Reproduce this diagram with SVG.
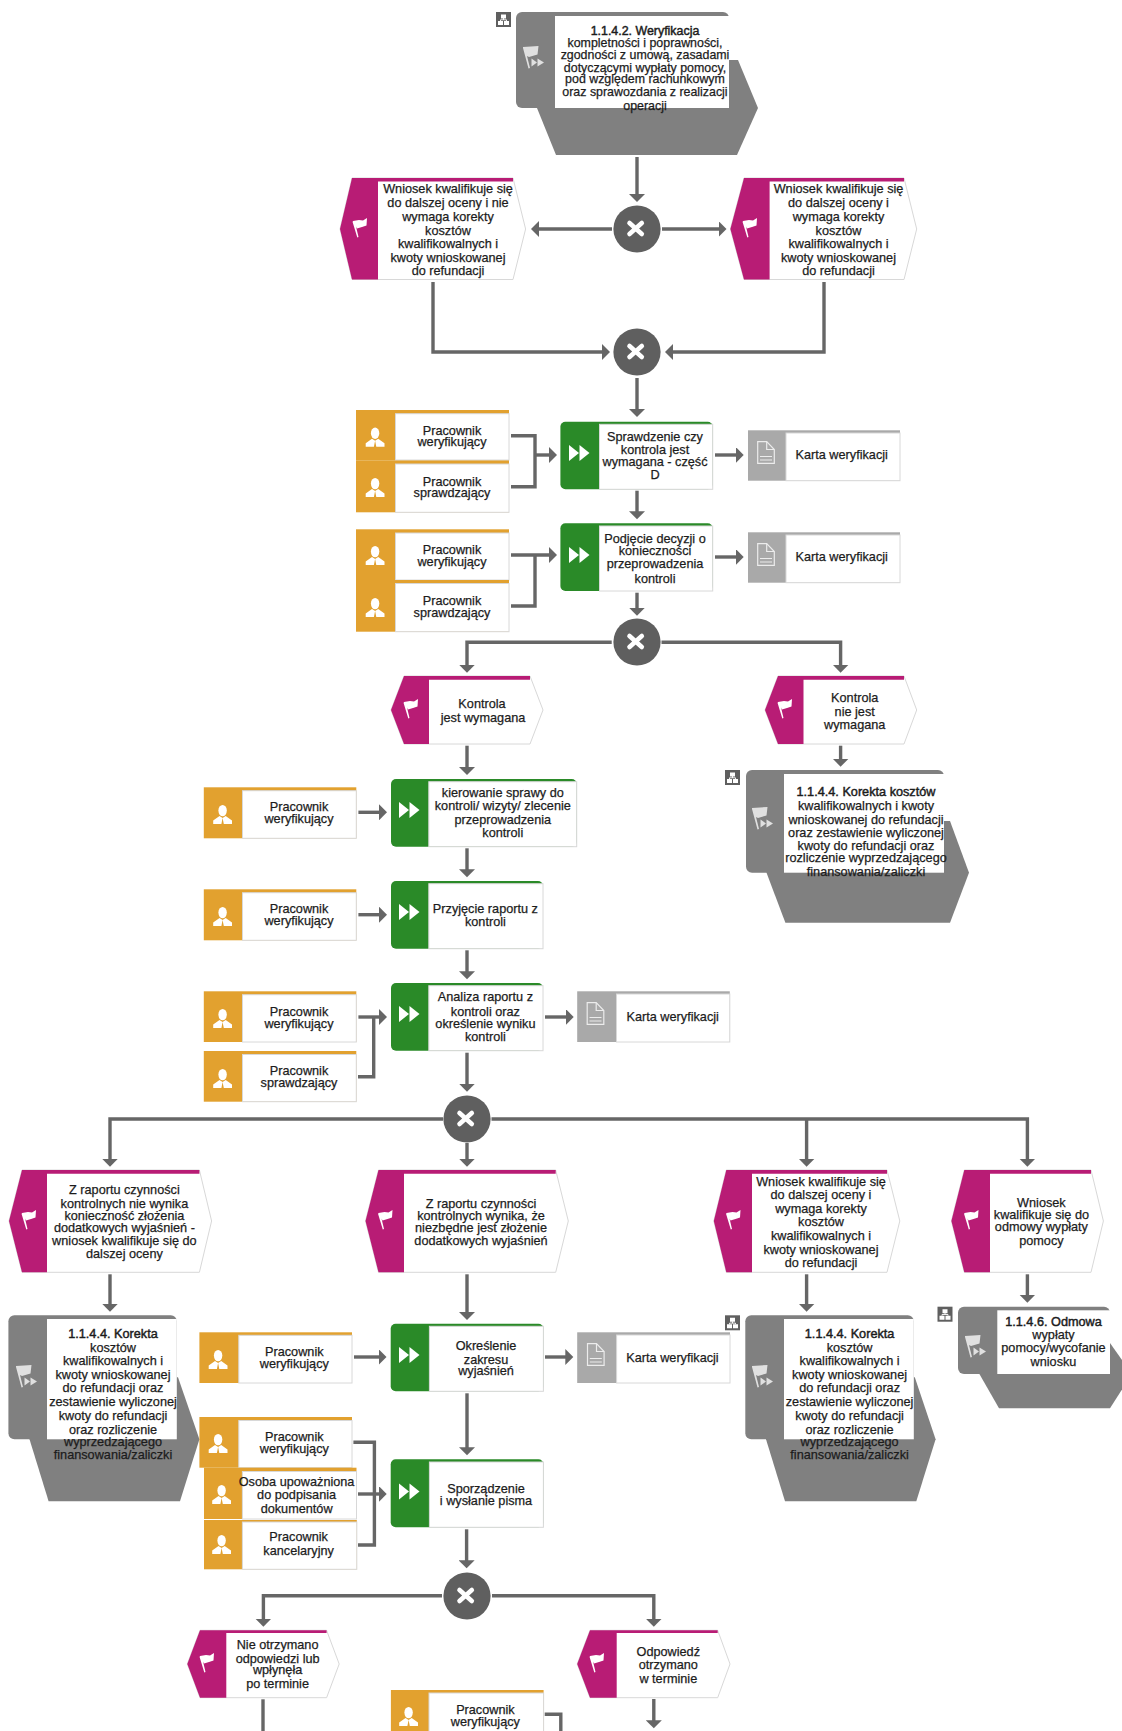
<svg xmlns="http://www.w3.org/2000/svg" width="1122" height="1731" viewBox="0 0 1122 1731">
<style>
text{font-family:"Liberation Sans",Arial,sans-serif;font-size:12.7px;fill:#1c1c1c;text-anchor:middle;stroke:#1c1c1c;stroke-width:.25;transform:translateY(-.8px)}
.s{font-size:12.4px}
.b{stroke-width:.45}
.con{fill:none;stroke:#666;stroke-width:3.4}
.arr{marker-end:url(#ah)}
.wh{fill:#fff;stroke:#d8d8d8;stroke-width:1}
.wp{fill:#fff}
.mag{fill:#b81c75}
.org{fill:#e2a12f}
.grn{fill:#2a8a28}
.doc{fill:#a9a9a9}
.pro{fill:#808080}
</style>
<defs>
<marker id="ah" markerUnits="userSpaceOnUse" markerWidth="9" markerHeight="16" refX="1" refY="8" orient="auto"><path d="M0,0L8,8L0,16z" fill="#666"/></marker>
<g id="flag" fill="#fff"><path d="M1,4L7,3L11,3.5L15,1L14.5,8.500L10,10L5,11.500L4,9.500L6.500,20L5.300,20.500L.6,5z"/></g>
<g id="pflag" fill="#e0e0e0"><path d="M-11,-11L-3,-11.500L4.500,-12L3.500,-3.500L-5,-1L-7,-2L-4,10L-5.500,10.500L-11,-10z"/><path d="M-2.500,.5L3,4.500L-2.500,8.500zM3.500,.5L10,4.500L3.500,8.500z"/></g>
<g id="play" fill="#fff"><path d="M0,-8L10,0L0,8zM10.500,-8L20.500,0L10.500,8z"/></g>
<g id="person" fill="#fff"><ellipse cx="-.4" cy="-3.400" rx="4.200" ry="5.700"/><path d="M-3.500,2L-9.800,6.500V10H-1.600L-.4,4L.8,10H9V6.500L2.700,2L-.4,4z"/></g>
<g id="page" fill="none" stroke="#ececec" stroke-width="1.200"><path d="M-8.300,-10.800H.7L8.300,-3V10.800H-8.300z"/><path d="M.7,-10.800V-3H8.300M-6,4H6M-6,7.500H6"/></g>
<g id="sub"><rect width="15" height="15" fill="#5f5f5f"/><path d="M5,2.500h5v4h-5zM2,9h5v4h-5zM8,9h5v4h-5z" fill="#fff"/><path d="M7.500,6V8M4.500,9V7.800H10.500V9" stroke="#fff" stroke-width=".9" fill="none"/></g>
<g id="x"><circle r="23.600" fill="#5f5f5f"/><path d="M-7.500,-6L4.800,5M4.800,-6L-7.500,5" stroke="#fff" stroke-width="4.600" stroke-linecap="round"/></g>
</defs>

<g id="connectors">
<path class="con arr" d="M637 157V195"/>
<path class="con arr" d="M612 229H538"/>
<path class="con arr" d="M662 229H719.500"/>
<path class="con arr" d="M433 282V352H603"/>
<path class="con arr" d="M824 282V352H672"/>
<path class="con arr" d="M637 378V410"/>
<path class="con" d="M511 435.700H535V486.700H511"/>
<path class="con arr" d="M535 455H550"/>
<path class="con arr" d="M715 455H736.700"/>
<path class="con arr" d="M637 490.700V512.300"/>
<path class="con arr" d="M511 555H550"/>
<path class="con" d="M511 606H535V555"/>
<path class="con arr" d="M715 557H736.700"/>
<path class="con arr" d="M637 592.700V608.700"/>
<path class="con arr" d="M611.700 642.300H467V665.700"/>
<path class="con arr" d="M661.500 642.300H840.600V665.700"/>
<path class="con arr" d="M467 745.700V768"/>
<path class="con arr" d="M840.600 745.700V759.700"/>
<path class="con arr" d="M358.400 812.300H380"/>
<path class="con arr" d="M467 848.300V870.300"/>
<path class="con arr" d="M358.400 914.700H380"/>
<path class="con arr" d="M467 950.300V972.300"/>
<path class="con arr" d="M358.400 1017H380"/>
<path class="con" d="M358 1076.700H373.700V1017"/>
<path class="con arr" d="M545 1017H566.700"/>
<path class="con arr" d="M467 1052.700V1084.700"/>
<path class="con arr" d="M443 1119H110V1159.700"/>
<path class="con arr" d="M491.500 1119H1027.400V1159.700"/>
<path class="con arr" d="M806.600 1119V1159.700"/>
<path class="con arr" d="M467 1143V1159.700"/>
<path class="con arr" d="M110 1274.300V1304.700"/>
<path class="con arr" d="M467 1274.300V1313"/>
<path class="con arr" d="M806.600 1274.300V1304.700"/>
<path class="con arr" d="M1027.400 1274.300V1295.700"/>
<path class="con arr" d="M354 1357H379.500"/>
<path class="con arr" d="M545 1357H566.300"/>
<path class="con arr" d="M467 1393.300V1448.300"/>
<path class="con" d="M353.400 1442.300H374.400V1545H358"/>
<path class="con arr" d="M358 1494H379.700"/>
<path class="con arr" d="M466.600 1529.300V1561.300"/>
<path class="con arr" d="M442 1595.700H263.400V1619.700"/>
<path class="con arr" d="M492 1595.700H653.800V1619.700"/>
<path class="con" d="M263 1699.300V1731"/>
<path class="con arr" d="M653.800 1699V1721.300"/>
<path class="con" d="M544.700 1714.300H560.800V1731"/>
</g>

<g id="p1">
<use href="#sub" x="496" y="12"/>
<polygon class="pro" points="537,108 556,155 737,155 758,108 738,60 537,60"/>
<rect class="pro" x="516" y="12" width="213" height="96" rx="6"/>
<rect class="wp" x="555" y="16" width="174" height="92"/>
<use href="#pflag" x="534" y="58"/>
<text class="s"><tspan class="b" x="645" y="35.500">1.1.4.2. Weryfikacja</tspan><tspan x="645" y="48">kompletności i poprawności,</tspan><tspan x="645" y="60">zgodności z umową, zasadami</tspan><tspan x="645" y="72.500">dotyczącymi wypłaty pomocy,</tspan><tspan x="645" y="84">pod względem rachunkowym</tspan><tspan x="645" y="97">oraz sprawozdania z realizacji</tspan><tspan x="645" y="110.500">operacji</tspan></text>
</g>
<g id="g1"><use href="#x" x="637" y="229"/></g>
<g id="e1">
<polygon class="wh" points="340,229 352,178 513,178 525.600,229 513,279.500 352,279.500"/>
<polygon class="mag" points="340,229 352,178 513,178 513,181.500 378,181.500 378,279.500 352,279.500"/>
<use href="#flag" x="352" y="217"/>
<text><tspan x="448" y="194">Wniosek kwalifikuje się</tspan><tspan x="448" y="208">do dalszej oceny i nie</tspan><tspan x="448" y="222">wymaga korekty</tspan><tspan x="448" y="235.500">kosztów</tspan><tspan x="448" y="249">kwalifikowalnych i</tspan><tspan x="448" y="262.500">kwoty wnioskowanej</tspan><tspan x="448" y="276">do refundacji</tspan></text>
</g>
<g id="e2">
<polygon class="wh" points="730.400,229 744,178 904,178 916.700,229 904,279.500 744,279.500"/>
<polygon class="mag" points="730.400,229 744,178 904,178 904,181.500 769.600,181.500 769.600,279.500 744,279.500"/>
<use href="#flag" x="742" y="217"/>
<text><tspan x="838.500" y="194">Wniosek kwalifikuje się</tspan><tspan x="838.500" y="208">do dalszej oceny i</tspan><tspan x="838.500" y="222">wymaga korekty</tspan><tspan x="838.500" y="235.500">kosztów</tspan><tspan x="838.500" y="249">kwalifikowalnych i</tspan><tspan x="838.500" y="262.500">kwoty wnioskowanej</tspan><tspan x="838.500" y="276">do refundacji</tspan></text>
</g>
<g id="g2"><use href="#x" x="637" y="352"/></g>

<g id="r1"><rect class="org" x="356" y="410" width="153" height="50.700"/><rect class="wh" x="395.500" y="413.700" width="113.500" height="46.300"/><use href="#person" x="375.500" y="436.700"/><text><tspan x="452" y="435.500">Pracownik</tspan><tspan x="452" y="447">weryfikujący</tspan></text></g>
<g id="r2"><rect class="org" x="356" y="460.700" width="153" height="51.600"/><rect class="wh" x="395.500" y="464" width="113.500" height="48.300"/><use href="#person" x="375.500" y="487"/><text><tspan x="452" y="486.500">Pracownik</tspan><tspan x="452" y="498">sprawdzający</tspan></text></g>
<g id="f1"><rect class="grn" x="560.400" y="421.700" width="152.300" height="67.600" rx="5"/><rect class="wh" x="599.500" y="424.300" width="113.200" height="65"/><use href="#play" x="569" y="453"/><text><tspan x="655" y="441.500">Sprawdzenie czy</tspan><tspan x="655" y="454.500">kontrola jest</tspan><tspan x="655" y="466.500">wymagana - część</tspan><tspan x="655" y="479.500">D</tspan></text></g>
<g id="d1"><rect class="doc" x="748" y="430.300" width="152" height="50.400"/><rect class="wh" x="786" y="433" width="114" height="47.700"/><use href="#page" x="766" y="452.500"/><text x="841.700" y="460">Karta weryfikacji</text></g>
<g id="r3"><rect class="org" x="356" y="529.300" width="153" height="50.700"/><rect class="wh" x="395.500" y="533" width="113.500" height="47"/><use href="#person" x="375.500" y="555"/><text><tspan x="452" y="554.500">Pracownik</tspan><tspan x="452" y="566.500">weryfikujący</tspan></text></g>
<g id="r4"><rect class="org" x="356" y="580" width="153" height="51.700"/><rect class="wh" x="395.500" y="583.500" width="113.500" height="48.200"/><use href="#person" x="375.500" y="607"/><text><tspan x="452" y="605.500">Pracownik</tspan><tspan x="452" y="617.500">sprawdzający</tspan></text></g>
<g id="f2"><rect class="grn" x="560.400" y="523.300" width="152.300" height="67.700" rx="5"/><rect class="wh" x="599.500" y="526" width="113.200" height="65"/><use href="#play" x="569" y="555"/><text><tspan x="655" y="544">Podjęcie decyzji o</tspan><tspan x="655" y="556">konieczności</tspan><tspan x="655" y="569">przeprowadzenia</tspan><tspan x="655" y="583.500">kontroli</tspan></text></g>
<g id="d2"><rect class="doc" x="748" y="532.300" width="152" height="50.400"/><rect class="wh" x="786" y="535" width="114" height="47.700"/><use href="#page" x="766" y="554.500"/><text x="841.700" y="562">Karta weryfikacji</text></g>
<g id="g3"><use href="#x" x="637" y="642"/></g>

<g id="e3">
<polygon class="wh" points="391,710 404,676 530,676 543,710 530,744 404,744"/>
<polygon class="mag" points="391,710 404,676 530,676 530,679.700 429,679.700 429,744 404,744"/>
<use href="#flag" x="403" y="698"/>
<text><tspan x="482" y="709">Kontrola</tspan><tspan x="483" y="723">jest wymagana</tspan></text>
</g>
<g id="e4">
<polygon class="wh" points="765,710 778,676 904,676 916.700,710 904,744 778,744"/>
<polygon class="mag" points="765,710 778,676 904,676 904,679.700 803.500,679.700 803.500,744 778,744"/>
<use href="#flag" x="777" y="698"/>
<text><tspan x="854.700" y="702.500">Kontrola</tspan><tspan x="854.700" y="716.500">nie jest</tspan><tspan x="854.700" y="730">wymagana</tspan></text>
</g>
<g id="p2">
<use href="#sub" x="725" y="770"/>
<polygon class="pro" points="766.500,872.700 785.400,922.700 950,922.700 969,872.700 950,821 766.500,821"/>
<rect class="pro" x="746" y="770" width="198" height="102.700" rx="6"/>
<rect class="wp" x="784" y="774" width="160" height="98.700"/>
<use href="#pflag" x="763" y="819"/>
<text><tspan class="b" x="866" y="796.500">1.1.4.4. Korekta kosztów</tspan><tspan x="866" y="811">kwalifikowalnych i kwoty</tspan><tspan x="866" y="824.500">wnioskowanej do refundacji</tspan><tspan x="866" y="838">oraz zestawienie wyliczonej</tspan><tspan x="866" y="851">kwoty do refundacji oraz</tspan><tspan x="866" y="863">rozliczenie wyprzedzającego</tspan><tspan x="866" y="877">finansowania/zaliczki</tspan></text>
</g>

<g id="r5"><rect class="org" x="203.800" y="787.300" width="152.500" height="51"/><rect class="wh" x="242.500" y="790.700" width="113.800" height="47.600"/><use href="#person" x="223" y="814"/><text><tspan x="299" y="812">Pracownik</tspan><tspan x="299" y="823.500">weryfikujący</tspan></text></g>
<g id="f3"><rect class="grn" x="391" y="779" width="185.700" height="67.700" rx="5"/><rect class="wh" x="428.800" y="781.700" width="147.900" height="65"/><use href="#play" x="399" y="810"/><text><tspan x="502.800" y="797.500">kierowanie sprawy do</tspan><tspan x="502.800" y="811">kontroli/ wizyty/ zlecenie</tspan><tspan x="502.800" y="824.500">przeprowadzenia</tspan><tspan x="502.800" y="838">kontroli</tspan></text></g>
<g id="r6"><rect class="org" x="203.800" y="889.300" width="152.500" height="51"/><rect class="wh" x="242.500" y="892.700" width="113.800" height="47.600"/><use href="#person" x="223" y="916"/><text><tspan x="299" y="914">Pracownik</tspan><tspan x="299" y="926">weryfikujący</tspan></text></g>
<g id="f4"><rect class="grn" x="391" y="881" width="152" height="67.700" rx="5"/><rect class="wh" x="428.800" y="883.700" width="114.200" height="65"/><use href="#play" x="399" y="912"/><text><tspan x="485.400" y="914">Przyjęcie raportu z</tspan><tspan x="485.400" y="927">kontroli</tspan></text></g>
<g id="r7"><rect class="org" x="203.800" y="991.300" width="152.500" height="50.700"/><rect class="wh" x="242.500" y="994.700" width="113.800" height="47.300"/><use href="#person" x="223" y="1018"/><text><tspan x="299" y="1016.500">Pracownik</tspan><tspan x="299" y="1028.500">weryfikujący</tspan></text></g>
<g id="r8"><rect class="org" x="203.800" y="1051" width="152.500" height="50.700"/><rect class="wh" x="242.500" y="1054.500" width="113.800" height="47.200"/><use href="#person" x="223" y="1078"/><text><tspan x="299" y="1076">Pracownik</tspan><tspan x="299" y="1088">sprawdzający</tspan></text></g>
<g id="f5"><rect class="grn" x="391" y="983" width="152" height="67.700" rx="5"/><rect class="wh" x="428.800" y="985.700" width="114.200" height="65"/><use href="#play" x="399" y="1014"/><text><tspan x="485.400" y="1002">Analiza raportu z</tspan><tspan x="485.400" y="1016.500">kontroli oraz</tspan><tspan x="485.400" y="1028.500">określenie wyniku</tspan><tspan x="485.400" y="1042">kontroli</tspan></text></g>
<g id="d3"><rect class="doc" x="577.200" y="991.300" width="152.600" height="50.700"/><rect class="wh" x="616.500" y="994" width="113.300" height="48"/><use href="#page" x="595.500" y="1013.500"/><text x="672.700" y="1022">Karta weryfikacji</text></g>
<g id="g4"><use href="#x" x="467" y="1119"/></g>

<g id="e5">
<polygon class="wh" points="9,1221 22,1170 199.400,1170 211.600,1221 199.400,1272.300 22,1272.300"/>
<polygon class="mag" points="9,1221 22,1170 199.400,1170 199.400,1173.700 47,1173.700 47,1272.300 22,1272.300"/>
<use href="#flag" x="21" y="1209"/>
<text><tspan x="124.400" y="1195">Z raportu czynności</tspan><tspan x="124.400" y="1208.500">kontrolnych nie wynika</tspan><tspan x="124.400" y="1221">konieczność złożenia</tspan><tspan x="124.400" y="1233">dodatkowych wyjaśnień -</tspan><tspan x="124.400" y="1245.500">wniosek kwalifikuje się do</tspan><tspan x="124.400" y="1259">dalszej oceny</tspan></text>
</g>
<g id="e6">
<polygon class="wh" points="365.500,1221 378.500,1170 555.700,1170 568.300,1221 555.700,1272.300 378.500,1272.300"/>
<polygon class="mag" points="365.500,1221 378.500,1170 555.700,1170 555.700,1173.700 404,1173.700 404,1272.300 378.500,1272.300"/>
<use href="#flag" x="377.500" y="1209"/>
<text><tspan x="481" y="1208.500">Z raportu czynności</tspan><tspan x="481" y="1221">kontrolnych wynika, że</tspan><tspan x="481" y="1233">niezbędne jest złożenie</tspan><tspan x="481" y="1245.500">dodatkowych wyjaśnień</tspan></text>
</g>
<g id="e7">
<polygon class="wh" points="713.800,1221 726.300,1170 887,1170 899.800,1221 887,1272.300 726.300,1272.300"/>
<polygon class="mag" points="713.800,1221 726.300,1170 887,1170 887,1173.700 752,1173.700 752,1272.300 726.300,1272.300"/>
<use href="#flag" x="725.500" y="1209"/>
<text><tspan x="821" y="1186.500">Wniosek kwalifikuje się</tspan><tspan x="821" y="1200">do dalszej oceny i</tspan><tspan x="821" y="1213.500">wymaga korekty</tspan><tspan x="821" y="1226.500">kosztów</tspan><tspan x="821" y="1240.500">kwalifikowalnych i</tspan><tspan x="821" y="1254.500">kwoty wnioskowanej</tspan><tspan x="821" y="1268">do refundacji</tspan></text>
</g>
<g id="e8">
<polygon class="wh" points="951.400,1221 964.300,1170 1091,1170 1103.400,1221 1091,1272.300 964.300,1272.300"/>
<polygon class="mag" points="951.400,1221 964.300,1170 1091,1170 1091,1173.700 990,1173.700 990,1272.300 964.300,1272.300"/>
<use href="#flag" x="963.500" y="1209"/>
<text><tspan x="1041.400" y="1207.500">Wniosek</tspan><tspan x="1041.400" y="1219.500">kwalifikuje się do</tspan><tspan x="1041.400" y="1232">odmowy wypłaty</tspan><tspan x="1041.400" y="1245.500">pomocy</tspan></text>
</g>

<g id="p3">
<polygon class="pro" points="29.500,1439.300 48.600,1501.300 180,1501.300 199.400,1439.300 178,1377.300 29.500,1377.300"/>
<rect class="pro" x="8.400" y="1315.300" width="168.400" height="124" rx="6"/>
<rect class="wp" x="47" y="1319" width="129.800" height="120.300"/>
<use href="#pflag" x="27" y="1377"/>
<text><tspan class="b" x="113" y="1338.500">1.1.4.4. Korekta</tspan><tspan x="113" y="1352.800">kosztów</tspan><tspan x="113" y="1366.200">kwalifikowalnych i</tspan><tspan x="113" y="1379.800">kwoty wnioskowanej</tspan><tspan x="113" y="1393.200">do refundacji oraz</tspan><tspan x="113" y="1406.800">zestawienie wyliczonej</tspan><tspan x="113" y="1421.200">kwoty do refundacji</tspan><tspan x="113" y="1434.500">oraz rozliczenie</tspan><tspan x="113" y="1446.800">wyprzedzającego</tspan><tspan x="113" y="1459.500">finansowania/zaliczki</tspan></text>
</g>
<g id="r9"><rect class="org" x="199.400" y="1332.300" width="152.600" height="50.700"/><rect class="wh" x="238.800" y="1335.300" width="113.200" height="47.700"/><use href="#person" x="218.500" y="1359"/><text><tspan x="294.300" y="1356.800">Pracownik</tspan><tspan x="294.300" y="1368.500">weryfikujący</tspan></text></g>
<g id="f6"><rect class="grn" x="390.700" y="1323.700" width="152.700" height="67.600" rx="5"/><rect class="wh" x="429.400" y="1326.300" width="114" height="65"/><use href="#play" x="399" y="1355"/><text><tspan x="486" y="1351.200">Określenie</tspan><tspan x="486" y="1364.500">zakresu</tspan><tspan x="486" y="1376.200">wyjaśnień</tspan></text></g>
<g id="d4"><rect class="doc" x="577.200" y="1332.300" width="152.800" height="50.700"/><rect class="wh" x="616.600" y="1335" width="113.400" height="48"/><use href="#page" x="595.800" y="1354.500"/><text x="672.500" y="1362.500">Karta weryfikacji</text></g>
<g id="r10"><rect class="org" x="199.400" y="1417" width="152.600" height="50.700"/><rect class="wh" x="238.800" y="1420.500" width="113.200" height="47.200"/><use href="#person" x="218.500" y="1443"/><text><tspan x="294.300" y="1441.500">Pracownik</tspan><tspan x="294.300" y="1453.800">weryfikujący</tspan></text></g>
<g id="r11"><rect class="org" x="204" y="1467.700" width="152.500" height="51.300"/><rect class="wh" x="242.400" y="1471.500" width="114.100" height="47.500"/><use href="#person" x="222" y="1494"/><text><tspan x="296.600" y="1486.500">Osoba upoważniona</tspan><tspan x="296.600" y="1500.200">do podpisania</tspan><tspan x="296.600" y="1513.500">dokumentów</tspan></text></g>
<g id="r12"><rect class="org" x="204" y="1520" width="152.800" height="49.300"/><rect class="wh" x="242.400" y="1522" width="114.400" height="47.300"/><use href="#person" x="222" y="1544"/><text><tspan x="298.600" y="1542.200">Pracownik</tspan><tspan x="298.600" y="1555.800">kancelaryjny</tspan></text></g>
<g id="f7"><rect class="grn" x="390.700" y="1459.300" width="152.700" height="68" rx="5"/><rect class="wh" x="429.400" y="1462" width="114" height="65.300"/><use href="#play" x="399" y="1491.500"/><text><tspan x="486" y="1493.500">Sporządzenie</tspan><tspan x="486" y="1505.800">i wysłanie pisma</tspan></text></g>

<g id="p4">
<use href="#sub" x="725" y="1315.300"/>
<polygon class="pro" points="766,1439.300 785,1501.300 916.300,1501.300 935.600,1439.300 914.800,1377.300 766,1377.300"/>
<rect class="pro" x="745.300" y="1315.300" width="168.500" height="124" rx="6"/>
<rect class="wp" x="784" y="1319" width="129.800" height="120.300"/>
<use href="#pflag" x="763" y="1377"/>
<text><tspan class="b" x="849.600" y="1338.500">1.1.4.4. Korekta</tspan><tspan x="849.600" y="1352.800">kosztów</tspan><tspan x="849.600" y="1366.200">kwalifikowalnych i</tspan><tspan x="849.600" y="1379.800">kwoty wnioskowanej</tspan><tspan x="849.600" y="1393.200">do refundacji oraz</tspan><tspan x="849.600" y="1406.800">zestawienie wyliczonej</tspan><tspan x="849.600" y="1421.200">kwoty do refundacji</tspan><tspan x="849.600" y="1434.500">oraz rozliczenie</tspan><tspan x="849.600" y="1446.800">wyprzedzającego</tspan><tspan x="849.600" y="1459.500">finansowania/zaliczki</tspan></text>
</g>
<g id="p5">
<use href="#sub" x="937.500" y="1306.700"/>
<polygon class="pro" points="979.400,1374 999,1408.300 1110,1408.300 1132,1374 1110,1343 979.400,1343"/>
<rect class="pro" x="958" y="1306.700" width="152" height="67.300" rx="6"/>
<rect class="wp" x="997.300" y="1310.300" width="112.700" height="63.700"/>
<use href="#pflag" x="976" y="1347"/>
<text><tspan class="b" x="1053.500" y="1326.800">1.1.4.6. Odmowa</tspan><tspan x="1053.500" y="1339.500">wypłaty</tspan><tspan x="1053.500" y="1352.800">pomocy/wycofanie</tspan><tspan x="1053.500" y="1366.500">wniosku</tspan></text>
</g>

<g id="g5"><use href="#x" x="467" y="1596"/></g>
<g id="e9">
<polygon class="wh" points="187.300,1664 200,1630.300 326.600,1630.300 339.200,1664 326.600,1697.700 200,1697.700"/>
<polygon class="mag" points="187.300,1664 200,1630.300 326.600,1630.300 326.600,1633 226.300,1633 226.300,1697.700 200,1697.700"/>
<use href="#flag" x="199" y="1652"/>
<text><tspan x="277.600" y="1650.200">Nie otrzymano</tspan><tspan x="277.600" y="1663.500">odpowiedzi lub</tspan><tspan x="277.600" y="1675.200">wpłynęła</tspan><tspan x="277.600" y="1688.500">po terminie</tspan></text>
</g>
<g id="e10">
<polygon class="wh" points="577.200,1664 590,1630.300 717.700,1630.300 730,1664 717.700,1697.700 590,1697.700"/>
<polygon class="mag" points="577.200,1664 590,1630.300 717.700,1630.300 717.700,1633 616.700,1633 616.700,1697.700 590,1697.700"/>
<use href="#flag" x="589" y="1652"/>
<text><tspan x="668.300" y="1656.500">Odpowiedź</tspan><tspan x="668.300" y="1670.200">otrzymano</tspan><tspan x="668.300" y="1683.500">w terminie</tspan></text>
</g>
<g id="r13"><rect class="org" x="390.900" y="1690" width="152.700" height="41"/><rect class="wh" x="429" y="1693" width="114.600" height="40"/><use href="#person" x="409" y="1716"/><text><tspan x="485.400" y="1714.500">Pracownik</tspan><tspan x="485.400" y="1726.800">weryfikujący</tspan></text></g>
</svg>
